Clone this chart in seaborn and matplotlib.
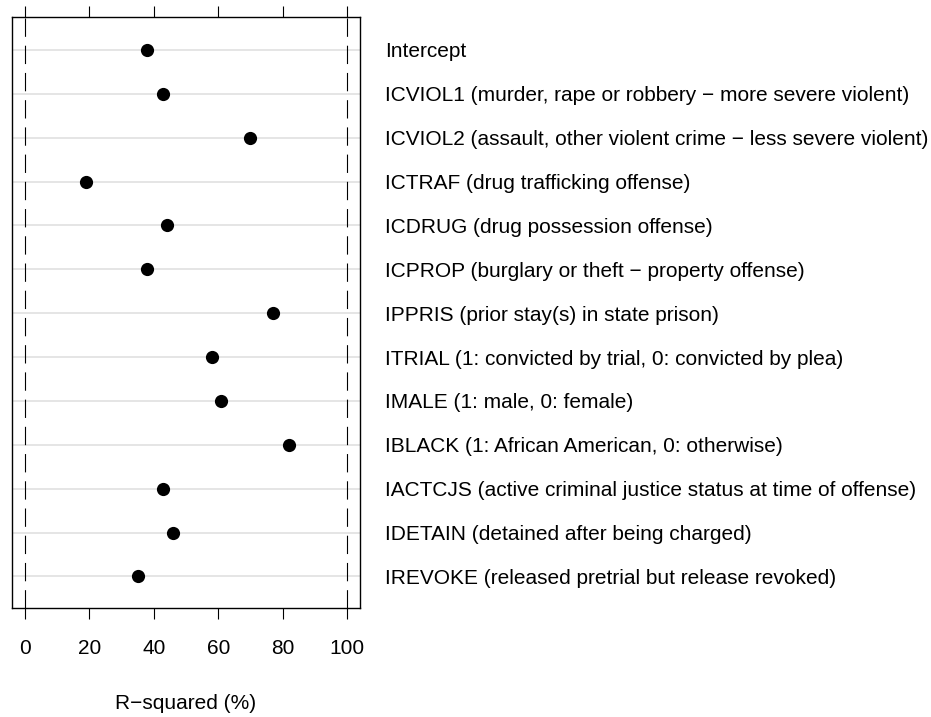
import numpy as np
import pandas as pd
import matplotlib
matplotlib.use("Agg")
import matplotlib.pyplot as plt
import seaborn as sns

# predictor labels, top to bottom
labels = [
    "Intercept",
    "ICVIOL1 (murder, rape or robbery \u2212 more severe violent)",
    "ICVIOL2 (assault, other violent crime \u2212 less severe violent)",
    "ICTRAF (drug trafficking offense)",
    "ICDRUG (drug possession offense)",
    "ICPROP (burglary or theft \u2212 property offense)",
    "IPPRIS (prior stay(s) in state prison)",
    "ITRIAL (1: convicted by trial, 0: convicted by plea)",
    "IMALE (1: male, 0: female)",
    "IBLACK (1: African American, 0: otherwise)",
    "IACTCJS (active criminal justice status at time of offense)",
    "IDETAIN (detained after being charged)",
    "IREVOKE (released pretrial but release revoked)",
]
r_squared = [38, 43, 70, 19, 44, 38, 77, 58, 61, 82, 43, 46, 35]
x_ticks = [0, 20, 40, 60, 80, 100]
x_label = "R\u2212squared (%)"

sns.set_style("white")
plt.rcParams['font.family'] = ['Liberation Sans', 'DejaVu Sans']
plt.rcParams['text.color'] = 'black'
plt.rcParams['axes.labelcolor'] = 'black'
plt.rcParams['xtick.color'] = 'black'
plt.rcParams['ytick.color'] = 'black'

df = pd.DataFrame({'label': labels, 'r2': r_squared})

fig = plt.figure(figsize=(9.31, 7.17), dpi=100)
ax = fig.add_axes([12 / 931, 109 / 717, 348 / 931, 591 / 717])

n = len(labels)
# light gray guide line for every row
for i in range(n):
    ax.axhline(i, color='#e3e3e3', lw=1.3, zorder=0)
# reference lines at 0 and 100
for v in (x_ticks[0], x_ticks[-1]):
    ax.axvline(v, color='black', lw=0.8, dashes=(16.5, 8), zorder=1)

sns.stripplot(data=df, x='r2', y='label', order=labels, jitter=False,
              color='black', size=9.5, linewidth=0, ax=ax, zorder=3)

fs = 15
ax.set_xlim(-4, 104)
ax.set_ylim(n - 1 + 0.72, -0.75)
ax.set_xticks(x_ticks)
ax.set_xticklabels([str(t) for t in x_ticks], fontsize=fs)
ax.tick_params(axis='x', top=True, labeltop=False, bottom=True, direction='out',
               length=8, width=0.8, color='black', pad=14, labelcolor='black')

ax.yaxis.tick_right()
ax.tick_params(axis='y', right=False, left=False, length=0, pad=18,
               labelsize=fs, labelcolor='black')
for t in ax.get_yticklabels():
    t.set_horizontalalignment('left')

ax.set_ylabel('')
ax.set_xlabel(x_label, fontsize=fs, labelpad=26, color='black')
ax.grid(False)
for s in ax.spines.values():
    s.set_visible(True)
    s.set_color('black')
    s.set_linewidth(1.0)

fig.savefig('out.png', dpi=100)
